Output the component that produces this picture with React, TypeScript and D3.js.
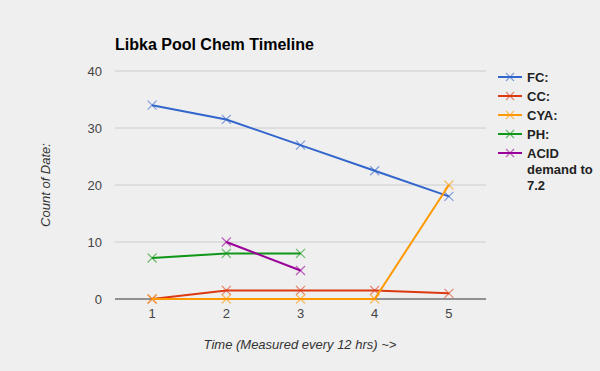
import React from "react";
import * as d3 from "d3";

const categories = ["1", "2", "3", "4", "5"];
const seriesNames = ["FC:", "CC:", "CYA:", "PH:", "ACID demand to 7.2"];
const fc: (number | null)[] = [34, 31.5, 27, 22.5, 18];
const cc: (number | null)[] = [0, 1.5, 1.5, 1.5, 1];
const cya: (number | null)[] = [0, 0, 0, 0, 20];
const ph: (number | null)[] = [7.2, 8, 8, null, null];
const acid: (number | null)[] = [null, 10, 5, null, null];
const yTicks = [0, 10, 20, 30, 40];
const colors = ["#3366cc", "#dc3912", "#ff9900", "#109618", "#990099"];

const W = 600, H = 371;
const plot = { left: 115, right: 486, top: 71, bottom: 299 };
const font = "Arial, 'Liberation Sans', sans-serif";

export default function App() {
  const series = [fc, cc, cya, ph, acid];
  const x = d3.scalePoint<string>().domain(categories).range([plot.left, plot.right]).padding(0.5);
  const y = d3.scaleLinear().domain([0, 40]).range([plot.bottom, plot.top]);
  const line = d3
    .line<number | null>()
    .defined((d) => d !== null)
    .x((_, i) => x(categories[i]) as number)
    .y((d) => y(d as number));
  const legendLines = [["FC:"], ["CC:"], ["CYA:"], ["PH:"], ["ACID", "demand to", "7.2"]];
  const m = 4.5;
  return (
    <svg width={W} height={H} style={{ position: "absolute", left: 0, top: 0 }}>
      <rect x={0} y={0} width={W} height={H} fill="#efefef" />
      <text x={115} y={50} fontFamily={font} fontSize={16} fontWeight="bold" fill="#000">
        Libka Pool Chem Timeline
      </text>
      {yTicks.map((t) => (
        <g key={t}>
          {t !== 0 && (
            <line x1={plot.left} x2={plot.right} y1={y(t)} y2={y(t)} stroke="#cccccc" strokeWidth={1} />
          )}
          <text x={102} y={y(t) + 4.5} textAnchor="end" fontFamily={font} fontSize={13} fill="#444">
            {t}
          </text>
        </g>
      ))}
      <line x1={plot.left} x2={plot.right} y1={y(0)} y2={y(0)} stroke="#333" strokeWidth={1} />
      {categories.map((c) => (
        <text key={c} x={x(c)} y={318} textAnchor="middle" fontFamily={font} fontSize={13} fill="#444">
          {c}
        </text>
      ))}
      <text x={300} y={349} textAnchor="middle" fontFamily={font} fontSize={13} fontStyle="italic" fill="#333">
        Time (Measured every 12 hrs) ~&gt;
      </text>
      <text
        transform={`translate(50,185) rotate(-90)`}
        textAnchor="middle"
        fontFamily={font}
        fontSize={13}
        fontStyle="italic"
        fill="#333"
      >
        Count of Date:
      </text>
      {series.map((s, si) => (
        <g key={si}>
          <path d={line(s) || ""} fill="none" stroke={colors[si]} strokeWidth={2} />
          {s.map((d, i) =>
            d === null ? null : (
              <g key={i} stroke={colors[si]} strokeOpacity={0.6} strokeWidth={1.2}>
                <line x1={(x(categories[i]) as number) - m} x2={(x(categories[i]) as number) + m} y1={y(d) - m} y2={y(d) + m} />
                <line x1={(x(categories[i]) as number) - m} x2={(x(categories[i]) as number) + m} y1={y(d) + m} y2={y(d) - m} />
              </g>
            )
          )}
        </g>
      ))}
      {seriesNames.map((n, i) => {
        const ly = 77 + i * 19;
        return (
          <g key={n}>
            <line x1={498} x2={522} y1={ly} y2={ly} stroke={colors[i]} strokeWidth={2} />
            <g stroke={colors[i]} strokeOpacity={0.6} strokeWidth={1.2}>
              <line x1={510 - 4} x2={510 + 4} y1={ly - 4} y2={ly + 4} />
              <line x1={510 - 4} x2={510 + 4} y1={ly + 4} y2={ly - 4} />
            </g>
            <text x={527} y={ly + 4.5} fontFamily={font} fontSize={13} fontWeight="bold" fill="#222">
              {legendLines[i].map((t, k) => (
                <tspan key={k} x={527} dy={k === 0 ? 0 : 16}>
                  {t}
                </tspan>
              ))}
            </text>
          </g>
        );
      })}
    </svg>
  );
}
